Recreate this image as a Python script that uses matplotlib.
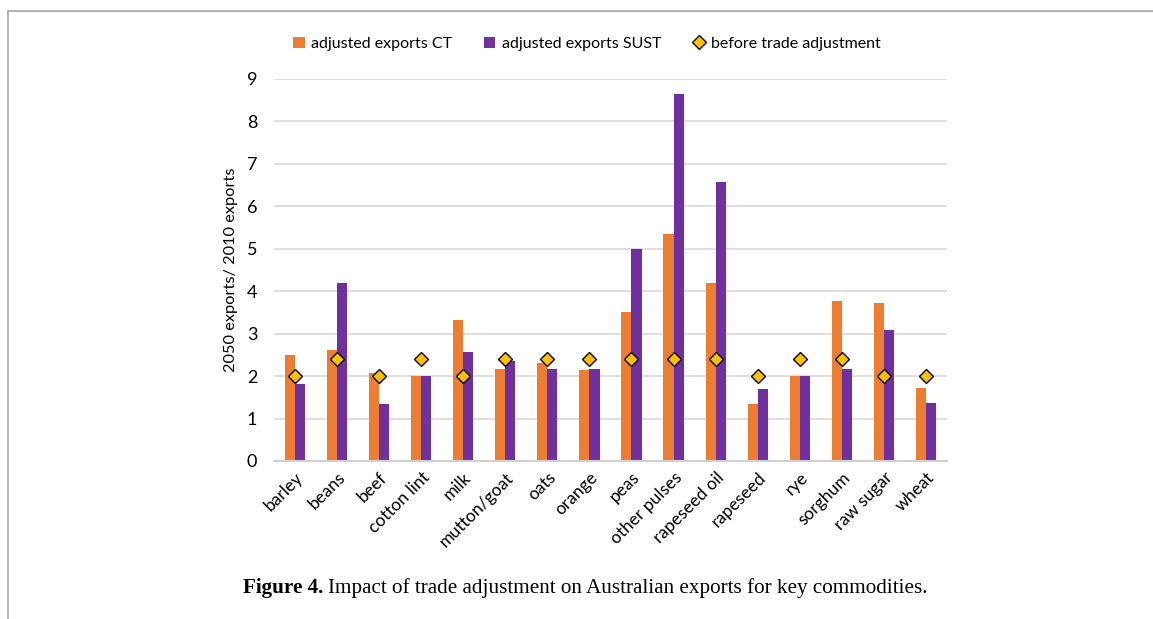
import matplotlib.pyplot as plt
import numpy as np
from matplotlib.lines import Line2D

commodities = ['barley', 'beans', 'beef', 'cotton lint', 'milk', 'mutton/goat', 'oats',
               'orange', 'peas', 'other pulses', 'rapeseed oil', 'rapeseed', 'rye',
               'sorghum', 'raw sugar', 'wheat']
exports_ct = [2.50, 2.61, 2.07, 2.00, 3.31, 2.17, 2.32, 2.14, 3.50, 5.34, 4.20, 1.34,
              2.00, 3.78, 3.73, 1.73]
exports_sust = [1.81, 4.20, 1.34, 2.00, 2.56, 2.35, 2.16, 2.17, 5.00, 8.65, 6.58, 1.69,
                2.00, 2.17, 3.09, 1.36]
before_adj = [2.0, 2.4, 2.0, 2.4, 2.0, 2.4, 2.4, 2.4, 2.4, 2.4, 2.4, 2.0, 2.4, 2.4, 2.0, 2.0]

plt.rcParams['font.family'] = ['Lato', 'DejaVu Sans']

fig = plt.figure(figsize=(11.53, 6.19), dpi=100)
ax = fig.add_axes([0.2376, 0.2553, 0.5837, 0.6171])

x = np.arange(len(commodities))
w = 0.24
b1 = ax.bar(x - w / 2, exports_ct, width=w, color='#ED7D31', label='adjusted exports CT', zorder=2)
b2 = ax.bar(x + w / 2, exports_sust, width=w, color='#7030A0', label='adjusted exports SUST', zorder=2)
m, = ax.plot(x, before_adj, linestyle='none', marker='D', markersize=7.5, markerfacecolor='#FFC000',
             markeredgecolor='black', markeredgewidth=1.0, label='before trade adjustment', zorder=3)

ax.set_xlim(-0.5, len(commodities) - 0.5)
ax.set_ylim(0, 9)
ax.set_yticks(range(0, 10))
ax.yaxis.grid(True, color='#D9D9D9', linewidth=1.2, zorder=0)
ax.set_axisbelow(True)
for s in ['top', 'right', 'left']:
    ax.spines[s].set_visible(False)
ax.spines['bottom'].set_color('#D0D0D0')
ax.spines['bottom'].set_linewidth(1.5)

ax.set_xticks(x)
ax.set_xticklabels(commodities, rotation=45, ha='right', rotation_mode='anchor', fontsize=12.5)
ax.tick_params(axis='x', length=0, pad=6)
ax.tick_params(axis='y', length=0, pad=12, labelsize=13)
ax.set_ylabel('2050 exports/ 2010 exports', fontsize=11.8, labelpad=6)

fig.legend(handles=[b1, b2, m], loc='center', bbox_to_anchor=(0.509, 0.929), ncol=3,
           frameon=False, fontsize=11.5, handlelength=0.7, handletextpad=0.4, columnspacing=2.0)

# caption: bold lead then regular text
cap1 = fig.text(0.2108, 0.050, 'Figure 4.', fontsize=15.2, fontweight='bold',
                family='Liberation Serif', ha='left', va='center')
fig.canvas.draw()
bb = cap1.get_window_extent(fig.canvas.get_renderer())
fig.text((bb.x1 + 5) / fig.bbox.width, 0.050,
         'Impact of trade adjustment on Australian exports for key commodities.',
         fontsize=15.2, family='Liberation Serif', ha='left', va='center')

# page frame
fig.add_artist(Line2D([0.007, 1.0], [0.982, 0.982], color='#A6A6A6', linewidth=1.2))
fig.add_artist(Line2D([0.007, 0.007], [0.0, 0.982], color='#A6A6A6', linewidth=1.2))

fig.savefig('out.png', dpi=100)
